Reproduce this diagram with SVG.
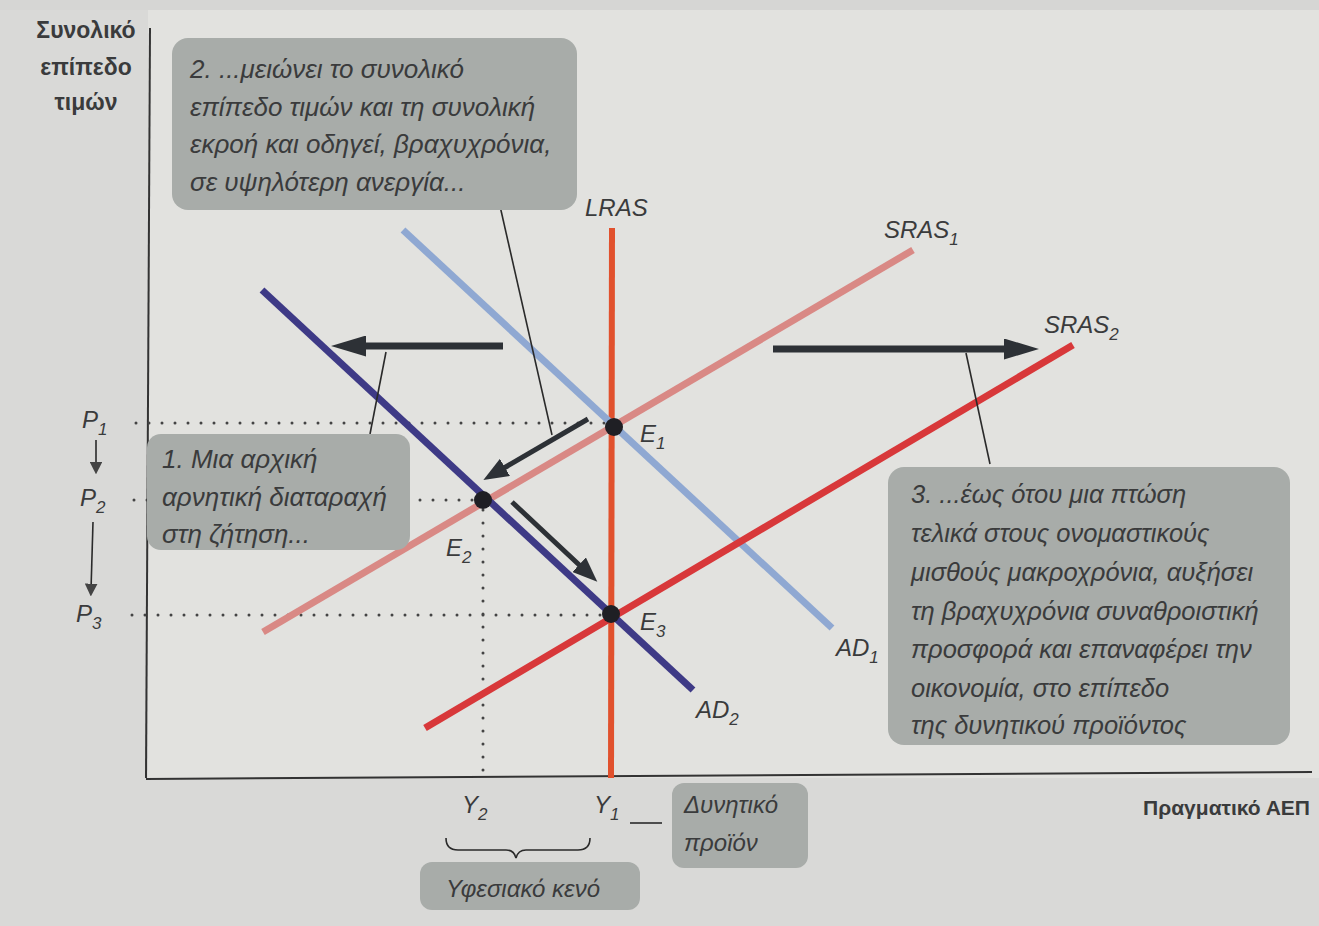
<svg xmlns="http://www.w3.org/2000/svg" width="1319" height="926" viewBox="0 0 1319 926">
<style>
.t{font-family:"Liberation Sans",Arial,sans-serif;font-style:italic;fill:#3a3b3c}
.box{fill:#a8aca9}
.ax{font-family:"Liberation Sans",Arial,sans-serif;font-weight:bold;fill:#3a3b3c}
.dot{stroke:#444;stroke-width:3;stroke-dasharray:0 13;stroke-linecap:round;fill:none}
.ptr{stroke:#2a2a2a;stroke-width:1.6;fill:none}
.arr{stroke:#2d3136;stroke-width:7;fill:none}
.sarr{stroke:#2d3136;stroke-width:5;fill:none}
</style>
<defs>
<marker id="ah" markerWidth="5" markerHeight="3" refX="3" refY="1.5" orient="auto" markerUnits="strokeWidth"><path d="M0,0 L5,1.5 L0,3 Z" fill="#2d3136"/></marker>
<marker id="ahs" markerWidth="5" markerHeight="4" refX="3" refY="2" orient="auto" markerUnits="strokeWidth"><path d="M0,0 L5,2 L0,4 Z" fill="#2d3136"/></marker>
<marker id="ahp" markerWidth="8" markerHeight="8" refX="4" refY="4" orient="auto" markerUnits="strokeWidth"><path d="M0,0 L8,4 L0,8 Z" fill="#444"/></marker>
</defs>
<rect x="0" y="0" width="1319" height="926" fill="#d6d6d4"/>
<rect x="148" y="10" width="1171" height="768" fill="#e4e4e2"/>
<rect x="0" y="10" width="1319" height="916" fill="#dededc" opacity="0.4"/>

<!-- axes -->
<g id="axes">
<line x1="150" y1="28" x2="146" y2="778" stroke="#333" stroke-width="2"/>
<line x1="146" y1="779" x2="1312" y2="772" stroke="#333" stroke-width="2"/>
<text class="ax" font-size="23" text-anchor="middle"><tspan x="86" y="38">Συνολικό</tspan><tspan x="86" y="75">επίπεδο</tspan><tspan x="86" y="110">τιμών</tspan></text>
<text class="ax" x="1310" y="815" font-size="21" text-anchor="end">Πραγματικό ΑΕΠ</text>
</g>

<!-- dotted guides -->
<g id="guides">
<line class="dot" x1="136" y1="423" x2="610" y2="423"/>
<line class="dot" x1="134" y1="500" x2="480" y2="500"/>
<line class="dot" x1="132" y1="615" x2="610" y2="615"/>
<line class="dot" x1="483" y1="510" x2="483" y2="778"/>
</g>

<!-- curves -->
<g id="curves" stroke-width="7" stroke-linecap="butt">
<line id="LRAS" x1="612" y1="228" x2="611" y2="778" stroke="#e1512d" stroke-width="6"/>
<line id="AD1" x1="403" y1="230" x2="832" y2="628" stroke="#8fa8d2"/>
<line id="SRAS1" x1="263" y1="632" x2="913" y2="250" stroke="#d98985"/>
<line id="SRAS2" x1="425" y1="728" x2="1073" y2="345" stroke="#d8383a"/>
<line id="AD2" x1="262" y1="290" x2="693" y2="690" stroke="#3e3a86"/>
</g>

<!-- connectors -->
<g id="connectors">
<line class="arr" x1="503" y1="346" x2="345" y2="346" marker-end="url(#ah)"/>
<line class="arr" x1="773" y1="349" x2="1025" y2="349" marker-end="url(#ah)"/>
<line class="sarr" x1="588" y1="419" x2="492" y2="475" marker-end="url(#ahs)"/>
<line class="sarr" x1="512" y1="502" x2="590" y2="575" marker-end="url(#ahs)"/>
<line class="ptr" x1="500" y1="206" x2="552" y2="435"/>
<line class="ptr" x1="370" y1="434" x2="386" y2="352"/>
<line class="ptr" x1="990" y1="464" x2="966" y2="353"/>
<line class="ptr" x1="96" y1="440" x2="96" y2="468" marker-end="url(#ahp)"/>
<line class="ptr" x1="93" y1="522" x2="91" y2="590" marker-end="url(#ahp)"/>
<line class="ptr" x1="630" y1="823" x2="662" y2="823"/>
<path class="ptr" stroke-width="3" d="M446,838 Q446,850 458,850 L506,850 Q514,850 516,858 Q518,850 526,850 L578,850 Q590,850 590,838"/>
</g>

<!-- equilibria -->
<g id="E1"><circle cx="614" cy="427" r="9" fill="#1f1f24"/><text class="t" x="640" y="442" font-size="24">E<tspan font-size="17" dy="7">1</tspan></text></g>
<g id="E2"><circle cx="483" cy="500" r="9" fill="#1f1f24"/><text class="t" x="446" y="556" font-size="24">E<tspan font-size="17" dy="7">2</tspan></text></g>
<g id="E3"><circle cx="611" cy="614" r="9" fill="#1f1f24"/><text class="t" x="640" y="630" font-size="24">E<tspan font-size="17" dy="7">3</tspan></text></g>

<!-- curve labels -->
<g id="labels">
<text class="t" x="585" y="216" font-size="24">LRAS</text>
<text class="t" x="884" y="238" font-size="24">SRAS<tspan font-size="17" dy="7">1</tspan></text>
<text class="t" x="1044" y="333" font-size="24">SRAS<tspan font-size="17" dy="7">2</tspan></text>
<text class="t" x="836" y="656" font-size="24">AD<tspan font-size="17" dy="7">1</tspan></text>
<text class="t" x="696" y="718" font-size="24">AD<tspan font-size="17" dy="7">2</tspan></text>
<text class="t" x="82" y="428" font-size="24">P<tspan font-size="17" dy="7">1</tspan></text>
<text class="t" x="80" y="506" font-size="24">P<tspan font-size="17" dy="7">2</tspan></text>
<text class="t" x="76" y="622" font-size="24">P<tspan font-size="17" dy="7">3</tspan></text>
<text class="t" x="462" y="813" font-size="24">Y<tspan font-size="17" dy="7">2</tspan></text>
<text class="t" x="594" y="813" font-size="24">Y<tspan font-size="17" dy="7">1</tspan></text>
</g>

<!-- callout boxes -->
<g id="box2"><rect class="box" x="172" y="38" width="405" height="172" rx="16"/>
<text class="t" font-size="26"><tspan x="190" y="78">2. ...μειώνει το συνολικό</tspan><tspan x="190" y="116">επίπεδο τιμών και τη συνολική</tspan><tspan x="190" y="153">εκροή και οδηγεί, βραχυχρόνια,</tspan><tspan x="190" y="191">σε υψηλότερη ανεργία...</tspan></text></g>

<g id="box1"><rect class="box" x="147" y="434" width="263" height="116" rx="14"/>
<text class="t" font-size="26"><tspan x="162" y="468">1. Μια αρχική</tspan><tspan x="162" y="506">αρνητική διαταραχή</tspan><tspan x="162" y="543">στη ζήτηση...</tspan></text></g>

<g id="box3"><rect class="box" x="888" y="467" width="402" height="278" rx="16"/>
<text class="t" font-size="25.5"><tspan x="911" y="503">3. ...έως ότου μια πτώση</tspan><tspan x="911" y="542">τελικά στους ονομαστικούς</tspan><tspan x="911" y="581">μισθούς μακροχρόνια, αυξήσει</tspan><tspan x="911" y="620">τη βραχυχρόνια συναθροιστική</tspan><tspan x="911" y="658">προσφορά και επαναφέρει την</tspan><tspan x="911" y="697">οικονομία, στο επίπεδο</tspan><tspan x="911" y="734">της δυνητικού προϊόντος</tspan></text></g>

<g id="box4"><rect class="box" x="672" y="783" width="136" height="85" rx="12"/>
<text class="t" font-size="24"><tspan x="684" y="813">Δυνητικό</tspan><tspan x="684" y="851">προϊόν</tspan></text></g>

<g id="box5"><rect class="box" x="420" y="862" width="220" height="48" rx="12"/>
<text class="t" x="446" y="897" font-size="24">Υφεσιακό κενό</text></g>
</svg>
